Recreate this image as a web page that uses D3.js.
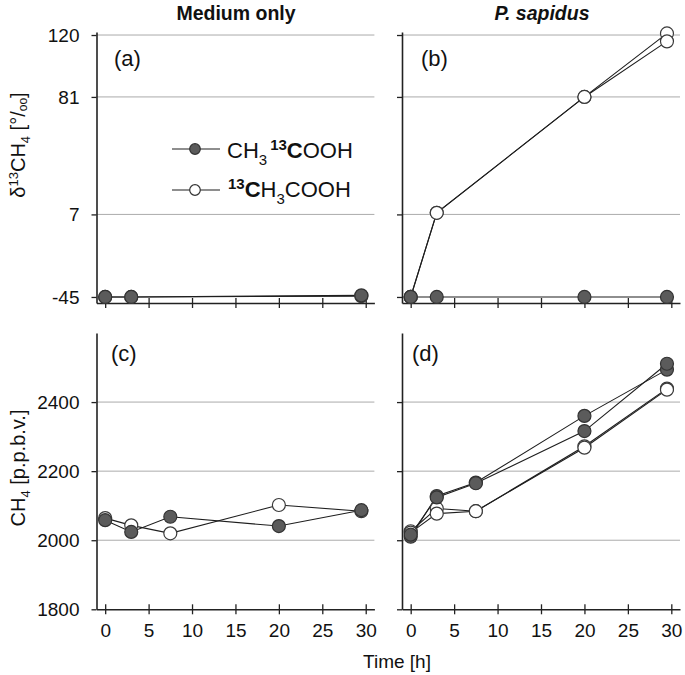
<!DOCTYPE html>
<html><head><meta charset="utf-8">
<script src="https://cdn.jsdelivr.net/npm/d3@7"></script>
<style>
body{margin:0;background:#fff}
text{font-family:"Liberation Sans",Arial,sans-serif;fill:#111}
</style>
</head><body>
<svg id="chart" width="685" height="675"></svg>
<script>
// ---------- data ----------
const timesA = [0, 3, 29.5];
const timesB = [0, 3, 20, 29.5];
const timesCD = [0, 3, 7.5, 20, 29.5];

const aFilled = [-45, -45, -44];
const aOpen   = [-45, -45, -44.5];

const bFilled = [-45, -45, -45, -45];
const bOpen1  = [-45, 8, 81, 121];
const bOpen2  = [-45, 8, 81, 116];

const cFilled = [2058, 2024, 2068, 2041, 2087];
const cOpen   = [2064, 2043, 2020, 2102, 2084];

const dFilled1 = [2010, 2128, 2167, 2360, 2494];
const dFilled2 = [2016, 2124, 2165, 2316, 2511];
const dOpen1   = [2026, 2092, 2084, 2272, 2439];
const dOpen2   = [2022, 2077, 2084, 2268, 2436];

const deltaTicks = [-45, 7, 81, 120];
const ch4Ticks = [1800, 2000, 2200, 2400];
const timeTicks = [0, 5, 10, 15, 20, 25, 30];
const colTitles = ["Medium only", "P. sapidus"];
const panelLabels = ["(a)", "(b)", "(c)", "(d)"];

// ---------- scales ----------
const svg = d3.select("#chart");
const xL = d3.scaleLinear().domain([-1, 31]).range([96.5, 374.4]);
const xR = d3.scaleLinear().domain([-1, 31]).range([402, 680]);
const yTop = d3.scaleLinear().domain([-48.8, 121.9]).range([303, 32]);
const yBot = d3.scaleLinear().domain([1800, 2600]).range([609.3, 333]);

const FS = 19;
const FILL_DARK = "#5b5b5b";
const fmt = d => String(d);

function panel(x, y, yTicks, showYLab, showXLab, series, label, labelPos) {
  const g = svg.append("g");
  const [x0, x1] = x.range();
  const [yb, yt] = y.range();
  // gridlines
  g.selectAll("line.grid").data(yTicks.filter(t => t > y.domain()[0] + 10))
    .join("line").attr("class", "grid")
    .attr("x1", x0).attr("x2", x1)
    .attr("y1", d => y(d)).attr("y2", d => y(d))
    .attr("stroke", "#ababab").attr("stroke-width", 1);
  // y axis
  const ya = g.append("g").attr("transform", `translate(${x0},0)`)
    .call(d3.axisLeft(y).tickValues(yTicks).tickSize(5).tickSizeOuter(0).tickPadding(12)
      .tickFormat(showYLab ? fmt : () => ""));
  ya.select(".domain").attr("stroke", "#222").attr("stroke-width", 1.6);
  ya.selectAll(".tick line").attr("stroke", "#222").attr("stroke-width", 1.3);
  ya.selectAll(".tick text").attr("font-size", FS).attr("font-family", "Liberation Sans, Arial, sans-serif").attr("fill", "#111");
  // x axis
  const xa = g.append("g").attr("transform", `translate(0,${yb})`)
    .call(d3.axisBottom(x).tickValues(timeTicks).tickSize(5).tickSizeOuter(0).tickPadding(9)
      .tickFormat(showXLab ? fmt : () => ""));
  xa.select(".domain").attr("stroke", "#222").attr("stroke-width", 1.6);
  xa.selectAll(".tick line").attr("y1", -5).attr("stroke", "#222").attr("stroke-width", 1.3);
  xa.selectAll(".tick text").attr("font-size", FS).attr("font-family", "Liberation Sans, Arial, sans-serif").attr("fill", "#111");
  // series
  const line = d3.line().x(d => x(d[0])).y(d => y(d[1]));
  series.forEach(s => {
    const pts = s.t.map((t, i) => [t, s.v[i]]);
    g.append("path").datum(pts).attr("d", line)
      .attr("fill", "none").attr("stroke", "#1e1e1e").attr("stroke-width", 1.1);
  });
  series.forEach(s => {
    const pts = s.t.map((t, i) => [t, s.v[i]]);
    g.selectAll(null).data(pts).join("circle")
      .attr("cx", d => x(d[0])).attr("cy", d => y(d[1])).attr("r", 6.5)
      .attr("fill", s.filled ? FILL_DARK : "#fff")
      .attr("stroke", s.filled ? "#333" : "#3a3a3a").attr("stroke-width", 1.2);
  });
  g.append("text").attr("x", labelPos[0]).attr("y", labelPos[1])
    .attr("font-size", 22).text(label);
}

panel(xL, yTop, deltaTicks, true, false, [
  {t: timesA, v: aOpen, filled: false},
  {t: timesA, v: aFilled, filled: true}
], panelLabels[0], [114, 66]);

panel(xR, yTop, deltaTicks, false, false, [
  {t: timesB, v: bOpen1, filled: false},
  {t: timesB, v: bOpen2, filled: false},
  {t: timesB, v: bFilled, filled: true}
], panelLabels[1], [421, 66]);

panel(xL, yBot, ch4Ticks, true, true, [
  {t: timesCD, v: cOpen, filled: false},
  {t: timesCD, v: cFilled, filled: true}
], panelLabels[2], [111, 361]);

panel(xR, yBot, ch4Ticks, false, true, [
  {t: timesCD, v: dOpen1, filled: false},
  {t: timesCD, v: dOpen2, filled: false},
  {t: timesCD, v: dFilled1, filled: true},
  {t: timesCD, v: dFilled2, filled: true}
], panelLabels[3], [412, 361]);

// column titles
svg.append("text").attr("x", 236).attr("y", 20).attr("text-anchor", "middle")
  .attr("font-size", FS + 0.5).attr("font-weight", "bold").text(colTitles[0]);
svg.append("text").attr("x", 542).attr("y", 20).attr("text-anchor", "middle")
  .attr("font-size", FS + 0.5).attr("font-weight", "bold").attr("font-style", "italic").text(colTitles[1]);

// y labels
const yl1 = svg.append("text").attr("transform", "translate(25,145) rotate(-90)")
  .attr("text-anchor", "middle").attr("font-size", 20);
yl1.append("tspan").text("δ");
yl1.append("tspan").attr("font-size", 13).attr("dy", -7).text("13");
yl1.append("tspan").attr("dy", 7).text("CH");
yl1.append("tspan").attr("font-size", 13).attr("dy", 5).text("4");
yl1.append("tspan").attr("dy", -5).text(" [°/");
yl1.append("tspan").attr("font-size", 12).attr("dy", 2).text("oo");
yl1.append("tspan").attr("dy", -2).text("]");

const yl2 = svg.append("text").attr("transform", "translate(25,468) rotate(-90)")
  .attr("text-anchor", "middle").attr("font-size", 20);
yl2.append("tspan").text("CH");
yl2.append("tspan").attr("font-size", 13).attr("dy", 5).text("4");
yl2.append("tspan").attr("dy", -5).text(" [p.p.b.v.]");

// x label
svg.append("text").attr("x", 397).attr("y", 668).attr("text-anchor", "middle")
  .attr("font-size", FS).text("Time [h]");

// legend
const legend = [
  {y: 149, filled: true},
  {y: 190, filled: false}
];
legend.forEach(l => {
  svg.append("line").attr("x1", 172).attr("x2", 220).attr("y1", l.y).attr("y2", l.y)
    .attr("stroke", "#1e1e1e").attr("stroke-width", 1.1);
  svg.append("circle").attr("cx", 195).attr("cy", l.y).attr("r", 5.3)
    .attr("fill", l.filled ? FILL_DARK : "#fff").attr("stroke", "#333").attr("stroke-width", 1.2);
});
const LF = 22;
const t1 = svg.append("text").attr("x", 227).attr("y", 158).attr("font-size", LF);
t1.append("tspan").text("CH");
t1.append("tspan").attr("font-size", 15).attr("dy", 7).text("3");
t1.append("tspan").attr("font-size", 15).attr("font-weight", "bold").attr("dx", 3).attr("dy", -15).text("13");
t1.append("tspan").attr("font-weight", "bold").attr("dy", 8).text("C");
t1.append("tspan").text("OOH");

const t2 = svg.append("text").attr("x", 228).attr("y", 197).attr("font-size", LF);
t2.append("tspan").attr("font-size", 15).attr("font-weight", "bold").attr("dy", -8).text("13");
t2.append("tspan").attr("font-weight", "bold").attr("dy", 8).text("C");
t2.append("tspan").text("H");
t2.append("tspan").attr("font-size", 15).attr("dy", 7).text("3");
t2.append("tspan").attr("dy", -7).text("COOH");
</script>
</body></html>
